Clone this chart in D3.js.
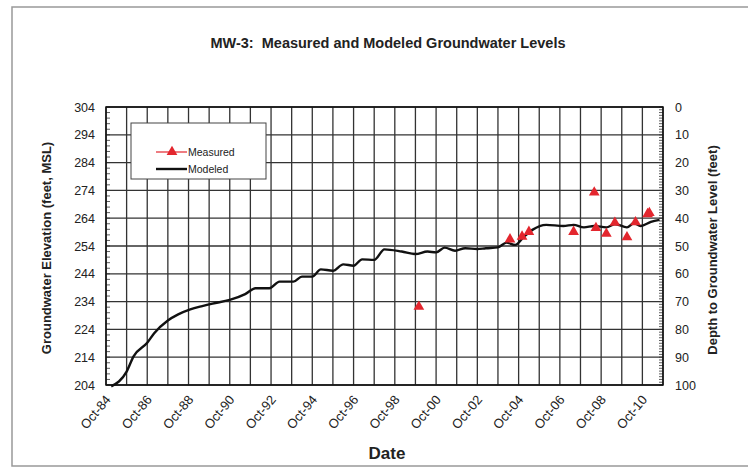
<!DOCTYPE html>
<html>
<head>
<meta charset="utf-8">
<script src="https://cdn.jsdelivr.net/npm/d3@7"></script>
<style>
  body { margin: 0; background: #fff; }
  text { font-family: "Liberation Sans", Arial, sans-serif; fill: #222; }
</style>
</head>
<body>
<div id="chart"></div>
<script>
// Modeled groundwater elevation (feet, MSL)
const modeledDates = ["1985-01","1985-10","1986-02","1986-10","1987-02","1987-10","1988-04","1988-11",
  "1989-06","1989-12","1990-10","1991-07","1992-01","1992-09","1993-03","1993-11","1994-04","1994-10",
  "1995-03","1995-10","1996-04","1996-10","1997-03","1997-10","1998-04","1999-02","1999-10","2000-05",
  "2000-10","2001-03","2001-09","2002-03","2002-10","2003-03","2003-10","2004-03","2004-08","2005-01",
  "2005-06","2006-02","2006-12","2007-06","2007-12","2008-06","2009-01","2009-06","2010-01","2010-05",
  "2010-09","2011-03","2011-08"];
const modeledValues = [203.5,208.8,214.3,219.2,222.6,227.2,229.4,231.2,
  232.4,233.3,234.6,236.7,238.8,238.8,241.2,241.2,243,243,
  245.6,245.1,247.4,246.9,249.2,249,252.8,252,251.1,252,
  251.7,253.4,252.3,253.2,252.9,253.2,253.5,255.2,254.4,257.3,
  259.8,261.6,261.2,261.6,260.7,261.2,260.7,261.9,260.7,262.2,
  261.2,262.7,263.4];

// Measured groundwater elevation
const measuredDates = ["1999-12","2004-05","2004-12","2005-04","2007-06","2008-06","2008-07",
  "2009-01","2009-06","2010-01","2010-06","2011-01","2011-02"];
const measuredValues = [232.2,256.4,257.4,259.1,259.1,273.3,260.5,
  258.4,262.4,257.2,262.6,265.5,265.9];

const yTicks = [204,214,224,234,244,254,264,274,284,294,304];
const depthTicks = [0,10,20,30,40,50,60,70,80,90,100];

const W = 748, H = 470;
const margin = { top: 107, right: 85, bottom: 85, left: 106 };
const width = W - margin.left - margin.right;
const height = H - margin.top - margin.bottom;

const parse = d3.timeParse("%Y-%m");
const modeled = modeledDates.map((d, i) => ({ date: parse(d), value: modeledValues[i] }));
const measured = measuredDates.map((d, i) => ({ date: parse(d), value: measuredValues[i] }));

const svg = d3.select("#chart").append("svg")
    .attr("width", W)
    .attr("height", H);

// outer frame
svg.append("rect")
    .attr("x", 12).attr("y", 7)
    .attr("width", 760).attr("height", 459)
    .attr("fill", "none")
    .attr("stroke", "#999")
    .attr("stroke-width", 1.5);

svg.append("text")
    .attr("x", 388).attr("y", 48)
    .attr("text-anchor", "middle")
    .style("font-size", "14.5px")
    .style("font-weight", "bold")
    .style("white-space", "pre")
    .text("MW-3:  Measured and Modeled Groundwater Levels");

const g = svg.append("g")
    .attr("transform", `translate(${margin.left}, ${margin.top})`);

const x = d3.scaleTime()
    .domain([new Date(1984, 9, 1), new Date(2011, 9, 1)])
    .range([0, width]);
const y = d3.scaleLinear().domain([204, 304]).range([height, 0]);
const yDepth = d3.scaleLinear().domain([0, 100]).range([0, height]);

// grid
const years = d3.range(1984, 2012).map(yr => new Date(yr, 9, 1));
g.append("g").selectAll("line")
    .data(years)
    .enter().append("line")
    .attr("x1", d => x(d)).attr("x2", d => x(d))
    .attr("y1", 0).attr("y2", height)
    .attr("stroke", "#333").attr("stroke-width", 1.3);
g.append("g").selectAll("line")
    .data(yTicks)
    .enter().append("line")
    .attr("x1", 0).attr("x2", width)
    .attr("y1", d => y(d)).attr("y2", d => y(d))
    .attr("stroke", "#333").attr("stroke-width", 1.3);

// minor ticks inside
g.append("g").selectAll("line")
    .data(d3.range(204, 305, 2))
    .enter().append("line")
    .attr("x1", 0).attr("x2", 4)
    .attr("y1", d => y(d)).attr("y2", d => y(d))
    .attr("stroke", "#333").attr("stroke-width", 0.8);
g.append("g").selectAll("line")
    .data(d3.range(0, 101, 1))
    .enter().append("line")
    .attr("x1", width - 4).attr("x2", width)
    .attr("y1", d => yDepth(d)).attr("y2", d => yDepth(d))
    .attr("stroke", "#333").attr("stroke-width", 0.8);

// frame of plot
g.append("rect")
    .attr("width", width).attr("height", height)
    .attr("fill", "none").attr("stroke", "#111").attr("stroke-width", 1.5);

// left axis
const yAxis = g.append("g")
    .call(d3.axisLeft(y).tickValues(yTicks).tickSize(0).tickPadding(11));
yAxis.select(".domain").remove();
yAxis.selectAll("text").style("font-size", "12.5px").style("font-family", "'Liberation Sans', Arial, sans-serif");

// right axis
const rAxis = g.append("g")
    .attr("transform", `translate(${width}, 0)`)
    .call(d3.axisRight(yDepth).tickValues(depthTicks).tickSize(0).tickPadding(12));
rAxis.select(".domain").remove();
rAxis.selectAll("text").style("font-size", "12.5px").style("font-family", "'Liberation Sans', Arial, sans-serif");

// bottom axis
const labelYears = d3.range(1984, 2011, 2).map(yr => new Date(yr, 9, 1));
const xAxis = g.append("g")
    .attr("transform", `translate(0, ${height})`)
    .call(d3.axisBottom(x).tickValues(labelYears).tickSize(0).tickPadding(0).tickFormat(d3.timeFormat("%b-%y")));
xAxis.select(".domain").remove();
xAxis.selectAll("text")
    .style("font-size", "13px")
    .style("font-family", "'Liberation Sans', Arial, sans-serif")
    .attr("text-anchor", "end")
    .attr("y", 0)
    .attr("dy", "0")
    .attr("transform", "translate(5, 15) rotate(-50)");

// axis titles
svg.append("text")
    .attr("transform", "translate(51, 248) rotate(-90)")
    .attr("text-anchor", "middle")
    .style("font-size", "13px").style("font-weight", "bold")
    .text("Groundwater Elevation (feet, MSL)");
svg.append("text")
    .attr("transform", "translate(717, 250) rotate(-90)")
    .attr("text-anchor", "middle")
    .style("font-size", "13px").style("font-weight", "bold")
    .text("Depth to Groundwater Level (feet)");
svg.append("text")
    .attr("x", 387).attr("y", 459)
    .attr("text-anchor", "middle")
    .style("font-size", "17px").style("font-weight", "bold")
    .text("Date");

// modeled line
const line = d3.line()
    .x(d => x(d.date))
    .y(d => y(d.value))
    .curve(d3.curveMonotoneX);
g.append("path")
    .datum(modeled)
    .attr("d", line)
    .attr("fill", "none")
    .attr("stroke", "#111")
    .attr("stroke-width", 2.4);

// measured points
const tri = d3.symbol().type(d3.symbolTriangle).size(50);
g.append("g").selectAll("path")
    .data(measured)
    .enter().append("path")
    .attr("d", tri)
    .attr("transform", d => `translate(${x(d.date)}, ${y(d.value)})`)
    .attr("fill", "#e3262e");

// legend
const legend = svg.append("g").attr("transform", "translate(131, 123)");
legend.append("rect")
    .attr("width", 135).attr("height", 56)
    .attr("fill", "#fff").attr("stroke", "#444").attr("stroke-width", 1);
legend.append("line")
    .attr("x1", 25).attr("x2", 56).attr("y1", 29).attr("y2", 29)
    .attr("stroke", "#e3262e").attr("stroke-width", 1.2);
legend.append("path")
    .attr("d", tri)
    .attr("transform", "translate(41, 29)")
    .attr("fill", "#e3262e");
legend.append("line")
    .attr("x1", 25).attr("x2", 56).attr("y1", 46).attr("y2", 46)
    .attr("stroke", "#111").attr("stroke-width", 2.4);
legend.append("text")
    .attr("x", 57).attr("y", 33)
    .style("font-size", "10.5px")
    .text("Measured");
legend.append("text")
    .attr("x", 57).attr("y", 50)
    .style("font-size", "10.5px")
    .text("Modeled");
</script>
</body>
</html>
